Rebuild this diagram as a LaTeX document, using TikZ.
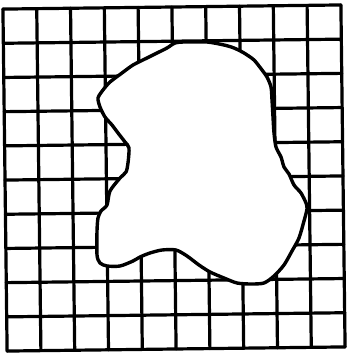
\documentclass[tikz,border=0pt]{standalone}
\begin{document}
\begin{tikzpicture}[x=1pt,y=-1pt,
  gridline/.style={line width=3.2pt,line cap=round,black},
  blob/.style={line width=3.4pt,line join=round,fill=white,draw=black}]
\useasboundingbox (0,0) rectangle (348,356);
\begin{scope}[rotate around={0.7:(174,178)}]
  \foreach \i in {0,...,10}{
    \draw[gridline] ({5+33.8*\i},7) -- ({5+33.8*\i},349);
    \draw[gridline] (5,{7+34.2*\i}) -- (343,{7+34.2*\i});
  }
\end{scope}
\filldraw[blob] plot[smooth cycle,tension=0.45] coordinates {
  (175,43) (184,42) (207,42) (224,45) (234,48) (244,53) (254,60) (262,70)
  (267,77) (271,87) (272,100) (273,117) (274,133) (276,147) (281,157)
  (284,167) (289,174) (294,185) (301,193) (306,203) (307,209) (304,221)
  (299,238) (292,251) (284,265) (274,276) (264,283) (251,284) (237,283)
  (224,278) (210,272) (199,265) (187,256) (176,250) (162,250) (150,253)
  (140,257) (133,261) (120,266) (107,266) (100,263) (97,255) (97,231)
  (98,218) (101,211) (107,205) (110,191) (120,178) (126,172) (128,163)
  (129,148) (125,142) (118,133) (112,125) (105,117) (100,107) (98,98)
  (103,90) (110,82) (122,73) (133,65) (147,58) (157,53) (167,48)
};
\end{tikzpicture}
\end{document}
